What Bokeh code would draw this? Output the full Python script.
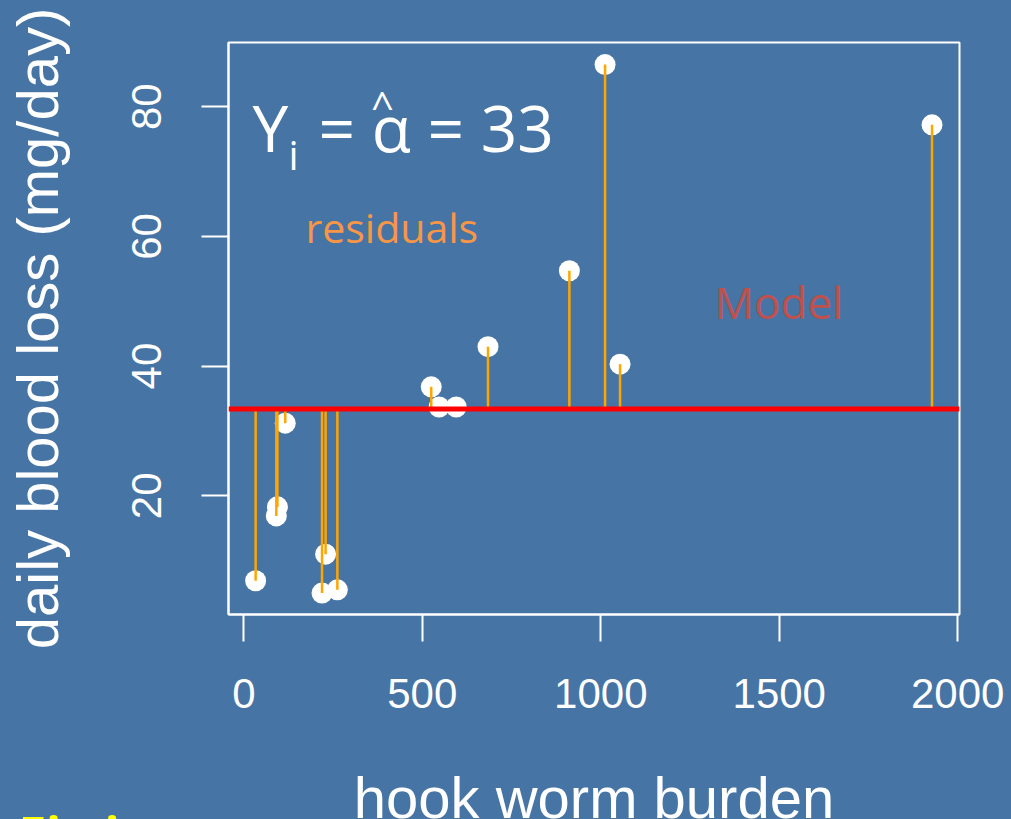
from bokeh.plotting import figure
from bokeh.layouts import column
from bokeh.models import Range1d, FixedTicker, Span, Label, ColumnDataSource
from bokeh.embed import file_html
from bokeh.resources import INLINE

# ---- data ----
worm_burden = [33, 91, 94, 116, 219, 229, 262, 525, 547, 595, 684, 912, 1012, 1054, 1928]
blood_loss = [6.9, 16.9, 18.3, 31.2, 5.0, 11.0, 5.5, 36.8, 33.7, 33.7, 43.0, 54.7, 86.5, 40.3, 77.2]
model_value = 33.4
x_ticks = [0, 500, 1000, 1500, 2000]
y_ticks = [20, 40, 60, 80]
x_label = "hook worm burden"
y_label = "daily blood loss (mg/day)"
footer_text = "Fitting"

BG = "#4674A4"
X0, X1 = -43, 2005
Y0, Y1 = 1.7, 89.9
W, H = 1011, 819
MAIN_H = 760
FL, FR, FT, FB = 228, 959, 42, 614  # frame pixel box


def px2x(px):
    return X0 + (px - FL) / (FR - FL) * (X1 - X0)


def px2y(py):
    return Y0 + (FB - py) / (FB - FT) * (Y1 - Y0)


p = figure(width=W, height=MAIN_H, output_backend="svg", toolbar_location=None,
           x_range=Range1d(X0, X1), y_range=Range1d(Y0, Y1),
           min_border_left=FL, min_border_right=W - FR,
           min_border_top=FT, min_border_bottom=MAIN_H - FB)
p.background_fill_color = BG
p.border_fill_color = BG
p.outline_line_color = "white"
p.outline_line_width = 2
p.grid.visible = False

for ax in (p.xaxis[0], p.yaxis[0]):
    ax.axis_line_color = "white"
    ax.axis_line_width = 2
    ax.major_tick_line_color = "white"
    ax.major_tick_line_width = 2
    ax.major_tick_out = 27
    ax.major_tick_in = 0
    ax.minor_tick_line_color = None
    ax.major_label_text_color = "white"
    ax.major_label_text_font = "Liberation Sans"
    ax.major_label_text_font_size = "42px"

p.xaxis.ticker = FixedTicker(ticks=x_ticks)
p.yaxis.ticker = FixedTicker(ticks=y_ticks)
p.xaxis.major_label_standoff = 37
p.yaxis.major_label_standoff = 40
p.yaxis.major_label_orientation = "vertical"

p.yaxis.axis_label = y_label
p.yaxis.axis_label_text_color = "white"
p.yaxis.axis_label_text_font = "Liberation Sans"
p.yaxis.axis_label_text_font_size = "58px"
p.yaxis.axis_label_text_font_style = "normal"
p.yaxis.axis_label_standoff = 60

src = ColumnDataSource(dict(x=worm_burden, y=blood_loss, m=[model_value] * len(worm_burden)))
p.scatter("x", "y", source=src, size=21, fill_color="white", line_color=None)
p.segment(x0="x", y0="y", x1="x", y1="m", source=src, line_color="#FFA500", line_width=2.5)
p.add_layout(Span(location=model_value, dimension="width", line_color="#FF0000", line_width=5))

tf = "Open Sans"


def lab(fig, x, y, text, color, size, **kw):
    kw.setdefault("text_baseline", "bottom")
    kw.setdefault("text_font", tf)
    fig.add_layout(Label(x=x, y=y, text=text, text_color=color,
                         text_font_size=size, **kw))


# formula  Y_i = alpha-hat = 33
lab(p, px2x(252), px2y(170), "Y", "white", "64px")
lab(p, px2x(288), px2y(181), "i", "white", "40px")
lab(p, px2x(318), px2y(170), "= \u03b1 = " + str(round(model_value)), "white", "64px")
lab(p, px2x(382), px2y(132), "^", "white", "40px", text_align="center")

lab(p, px2x(305), px2y(254), "residuals", "#F79646", "41px")
lab(p, px2x(714), px2y(331), "Model", "#C0504D", "44px")

# bottom strip: x axis title and the cut-off footer text
q = figure(width=W, height=H - MAIN_H, output_backend="svg", toolbar_location=None,
           x_range=Range1d(0, W), y_range=Range1d(H, MAIN_H),
           min_border=0, min_border_left=0, min_border_right=0,
           min_border_top=0, min_border_bottom=0)
if hasattr(q, "frame_align"):
    q.frame_align = False
    p.frame_align = False
q.axis.visible = False
q.grid.visible = False
q.outline_line_color = None
q.background_fill_color = BG
q.border_fill_color = BG
lab(q, (FL + FR) / 2, 829, x_label, "white", "58px", text_align="center",
    text_font="Liberation Sans")
lab(q, 18, 867, footer_text, "#FFFF00", "50px", text_font_style="bold")

layout = column(p, q, spacing=0)
layout.styles = {"background-color": BG}
open("out.html", "w").write(file_html(layout, INLINE))
